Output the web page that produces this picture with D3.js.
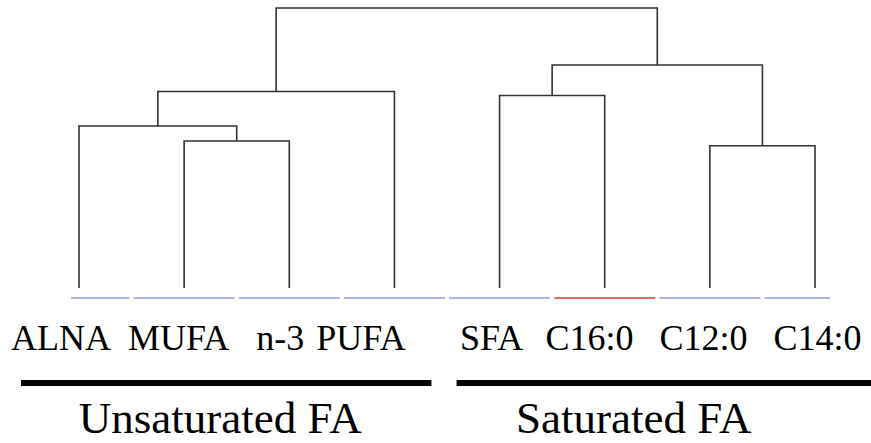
<!DOCTYPE html>
<html>
<head>
<meta charset="utf-8">
<script src="https://cdn.jsdelivr.net/npm/d3@7"></script>
<style>
  html, body { margin: 0; padding: 0; background: #fff; }
  svg { display: block; }
  text { font-family: "Liberation Serif", "Times New Roman", serif; fill: #000; }
</style>
</head>
<body>
<svg id="chart" width="871" height="443"></svg>
<script>
// Leaves of the dendrogram, left to right
const leaves = ["ALNA", "MUFA", "n-3", "PUFA", "SFA", "C16:0", "C12:0", "C14:0"];
// Marker under each leaf: "sig" is highlighted, "ns" is the default
const leafStatus = ["ns", "ns", "ns", "ns", "ns", "sig", "ns", "ns"];
// Linkage: [child A, child B, merge height]; ids 0-7 are leaves, 8+ are merges in order
const merges = [
  [1, 2, 14.7],    // 8  MUFA + n-3
  [0, 8, 16.2],    // 9  ALNA + (8)
  [9, 3, 19.65],   // 10 (9) + PUFA
  [4, 5, 19.25],   // 11 SFA + C16:0
  [6, 7, 14.23],   // 12 C12:0 + C14:0
  [11, 12, 22.3],  // 13 (11) + (12)
  [10, 13, 28.0]   // 14 root
];
// Group brackets under the labels
const groupNames = ["Unsaturated FA", "Saturated FA"];
const groupFirst = ["ALNA", "SFA"];
const groupLast = ["PUFA", "C14:0"];

const svg = d3.select("#chart");

const x = d3.scalePoint().domain(leaves).range([79, 815]);
const y = d3.scaleLinear().domain([0, 28]).range([288, 8]);

// Node positions: leaves from the point scale, merges centred over their children
const nodes = leaves.map(l => ({ x: x(l), h: 0 }));
merges.forEach(([a, b, h]) => {
  nodes.push({ x: (nodes[a].x + nodes[b].x) / 2, h, a, b });
});

// Dendrogram links: a bracket for each merge
svg.append("g")
  .selectAll("path")
  .data(merges)
  .join("path")
  .attr("fill", "none")
  .attr("stroke", "#333")
  .attr("stroke-width", 1.6)
  .attr("d", ([a, b, h]) => {
    const A = nodes[a], B = nodes[b];
    return `M${A.x},${y(A.h)}V${y(h)}H${B.x}V${y(B.h)}`;
  });

// Coloured markers along the leaf baseline
const markColor = { ns: "#b3b5ee", sig: "#e46b6b" };
const half = x.step() / 2 - 2;
svg.append("g")
  .selectAll("line")
  .data(leaves)
  .join("line")
  .attr("x1", d => Math.max(71, x(d) - half))
  .attr("x2", d => Math.min(830, x(d) + half))
  .attr("y1", 298)
  .attr("y2", 298)
  .attr("stroke", (d, i) => markColor[leafStatus[i]])
  .attr("stroke-width", 2);

// Leaf labels, laid out as two runs of text
const labelGap = [0, 17, 27, 12, 0, 22, 26, 26];
const runStart = { 0: 11, 4: 460 };
leaves.forEach((l, i) => {
  if (runStart[i] !== undefined) {
    svg.append("text")
      .attr("class", "run")
      .attr("x", runStart[i])
      .attr("y", 350)
      .attr("font-size", 36);
  }
  svg.select("text.run:last-of-type")
    .append("tspan")
    .attr("dx", labelGap[i])
    .text(l);
});

// Group bars and titles
const barLeft = [-58, -43], barRight = [37, 56], titleShift = [-6, -30];
groupNames.forEach((g, i) => {
  const x0 = x(groupFirst[i]) + barLeft[i];
  const x1 = x(groupLast[i]) + barRight[i];
  svg.append("rect")
    .attr("x", x0)
    .attr("y", 380)
    .attr("width", x1 - x0)
    .attr("height", 6)
    .attr("fill", "#000");
  svg.append("text")
    .attr("x", (x0 + x1) / 2 + titleShift[i])
    .attr("y", 433)
    .attr("text-anchor", "middle")
    .attr("font-size", 45)
    .text(g);
});
</script>
</body>
</html>
